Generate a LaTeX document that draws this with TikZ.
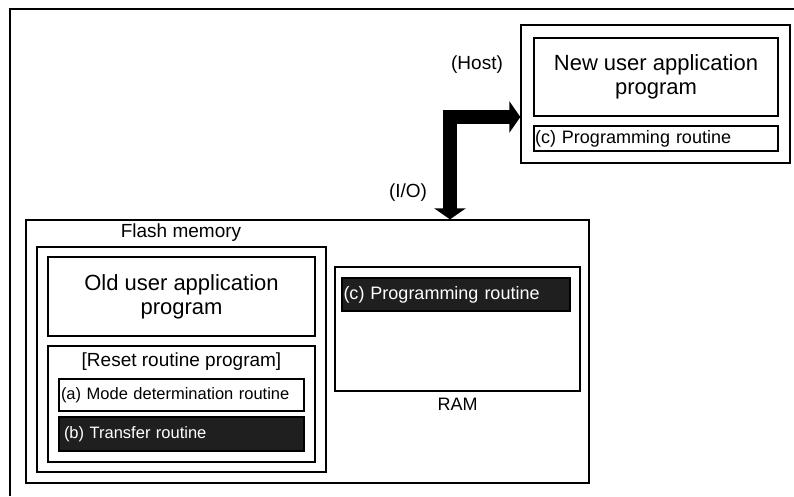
\documentclass[tikz,border=0pt]{standalone}
\usepackage{fontspec}
\setmainfont{Liberation Sans}
\usetikzlibrary{arrows.meta, positioning}

\begin{document}
\begin{tikzpicture}[
            x=1pt, y=-1pt,
            line width=1.3pt,
            % Styles
            box/.style={
                draw, rectangle, inner sep=0pt, align=center
            },
            bigtext/.style={font=\fontsize{22}{24}\selectfont},
            labeltext/.style={font=\fontsize{19}{22}\selectfont},
            routine/.style={
                draw, rectangle, inner ysep=0pt, inner xsep=2pt, align=left,
                font=\fontsize{16.5}{18}\selectfont
            },
            darkroutine/.style={
                routine, fill=black!88, text=white
            },
            iobus/.style={
                line width=14pt, {Triangle[length=11pt, width=31pt]}-{Triangle[length=11pt, width=31pt]}
            }
        ]

            \useasboundingbox (0,0) rectangle (794,496);

            % --- Frame ---
            \draw (10,496) -- (10,9) -- (794,9);

            % --- Nodes ---

            % 1. Host side
            \node[box, minimum width=269pt, minimum height=138pt] (host) at (655.5,94) {};
            \node[box, bigtext, minimum width=244pt, minimum height=78pt] (newapp) at (656,77) {New user application\\program};
            \node[routine, font=\fontsize{18}{20}\selectfont, inner xsep=1pt, text width=242pt, minimum height=25pt] (hostprog) at (656,138.5) {(c) Programming routine};
            \node[labeltext] (hostlabel) at (477,65) {(Host)};

            % 2. Microcontroller
            \node[box, minimum width=563pt, minimum height=263pt] (mcu) at (307.5,351.5) {};
            \node[labeltext] (iolabel) at (408,193) {(I/O)};

            % 3. Flash memory
            \node[box, minimum width=289pt, minimum height=225pt] (flash) at (181.5,359.5) {};
            \node[labeltext] (flashlabel) at (181,233) {Flash memory};
            \node[box, bigtext, minimum width=267pt, minimum height=79pt] (oldapp) at (181.5,296.5) {Old user application\\program};
            \node[box, minimum width=267pt, minimum height=116pt] (reset) at (181.5,404) {};
            \node[labeltext] (resetlabel) at (181.5,362) {[Reset routine program]};
            \node[routine, text width=241pt, minimum height=32pt] (modedet) at (181.5,395) {(a) Mode determination routine};
            \node[darkroutine, inner xsep=5pt, text width=235pt, minimum height=34pt] (transfer) at (181.5,434) {(b) Transfer routine};

            % 4. RAM
            \node[box, minimum width=245pt, minimum height=124pt] (ram) at (457.5,329) {};
            \node[darkroutine, font=\fontsize{18}{20}\selectfont, inner xsep=1.5pt, text width=225pt, minimum height=33pt] (ramprog) at (456,294.5) {(c) Programming routine};
            \node[labeltext, font=\fontsize{18}{20}\selectfont, below=2pt of ram] (ramlabel) {RAM};

            % --- Arrows ---
            \coordinate (iobend) at (450,117);
            \draw[iobus] (mcu.north -| iobend) -- (iobend) -- (host.west |- iobend);

        \end{tikzpicture}
\end{document}
